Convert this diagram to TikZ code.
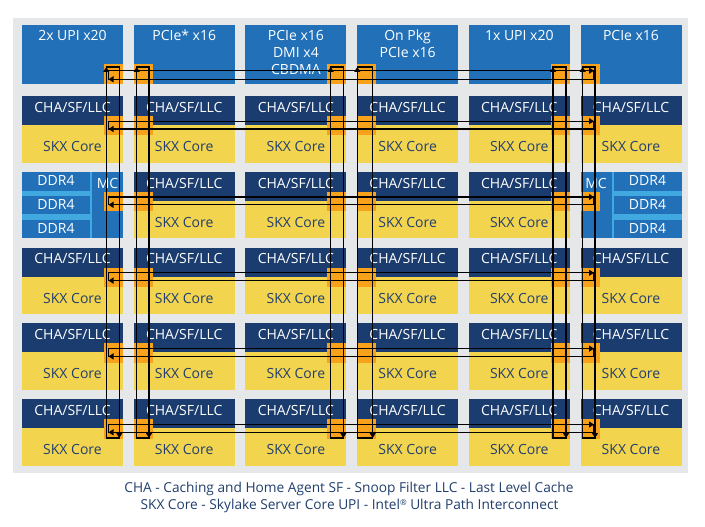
\documentclass[tikz,border=0pt]{standalone}
\usepackage{fontspec}
\setmainfont{Open Sans}
\usetikzlibrary{arrows.meta}
\definecolor{bggray}{HTML}{E6E7E8}
\definecolor{ioblue}{HTML}{2170B8}
\definecolor{chanavy}{HTML}{1B3C6E}
\definecolor{skxyel}{HTML}{F3D44F}
\definecolor{orng}{HTML}{F8A11B}
\definecolor{lightblue}{HTML}{3FA9E0}
\definecolor{txtnavy}{HTML}{213F6E}
\begin{document}
\begin{tikzpicture}[x=1pt,y=-1pt,
  blk/.style={draw=none, inner sep=0pt, outer sep=0pt, anchor=north west},
  ioblk/.style={blk, fill=ioblue},
  chablk/.style={blk, fill=chanavy},
  skxblk/.style={blk, fill=skxyel},
  orblk/.style={blk, fill=orng, minimum width=19pt, minimum height=19.5pt},
  wlabel/.style={text=white, anchor=base, inner sep=0pt, font=\fontsize{14}{17}\selectfont},
  nlabel/.style={text=txtnavy, anchor=base, inner sep=0pt, font=\fontsize{14}{17}\selectfont},
  legend/.style={text=txtnavy, anchor=base, inner sep=0pt, font=\fontsize{13.7}{16}\selectfont},
  ring/.style={draw=black, line width=1.1pt},
  tip/.style={ring, -{Triangle[length=5pt,width=6pt]}}
]
\useasboundingbox (0,0) rectangle (705,527);
\fill[white] (0,0) rectangle (705,527);
\fill[bggray] (13,18) rectangle (688,473);

% top I/O row
\foreach \c/\la/\lb/\lc in {0/2x UPI x20//, 1/PCIe* x16//, 2/PCIe x16/DMI x4/CBDMA, 3/On Pkg/PCIe x16/, 4/1x UPI x20//, 5/PCIe x16//}{
  \pgfmathsetmacro\xo{22+111.7*\c}
  \pgfmathsetmacro\xm{\xo+50.5}
  \node[ioblk, minimum width=101pt, minimum height=59.5pt] (io\c) at (\xo,25) {};
  \node[wlabel] (iola\c) at (\xm,40.3) {\la};
  \node[wlabel] (iolb\c) at (\xm,57.3) {\lb};
  \node[wlabel] (iolc\c) at (\xm,74.3) {\lc};
}

% tiles
\foreach \r in {0,...,4}{
  \foreach \c in {0,...,5}{
    \pgfmathsetmacro\xo{22+111.7*\c}
    \pgfmathsetmacro\yo{96+75.75*\r}
    \pgfmathsetmacro\xm{\xo+50.5}
    \pgfmathsetmacro\ya{\yo+16.3}
    \pgfmathsetmacro\yb{\yo+55.7}
    \pgfmathtruncatemacro\skiptile{(\r==1)&&((\c==0)||(\c==5))}
    \ifnum\skiptile=0
      \node[skxblk, minimum width=101pt, minimum height=66.5pt] (skx\r\c) at (\xo,\yo) {};
      \node[chablk, minimum width=101pt, minimum height=29pt] (cha\r\c) at (\xo,\yo) {};
      \node[wlabel] (chal\r\c) at (\xm,\ya) {CHA/SF/LLC};
      \node[nlabel] (skxl\r\c) at (\xm,\yb) {SKX Core};
    \fi
  }
}

% memory controller blocks
\pgfmathsetmacro\ymc{96+75.75}
\fill[lightblue] (22,\ymc) rectangle (123,\ymc+66.5);
\node[ioblk, minimum width=68pt, minimum height=18.8pt] (ddrl1) at (22,\ymc) {};
\node[ioblk, minimum width=68pt, minimum height=18.4pt] (ddrl2) at (22,\ymc+24) {};
\node[ioblk, minimum width=68pt, minimum height=18.7pt] (ddrl3) at (22,\ymc+47.8) {};
\node[ioblk, minimum width=31pt, minimum height=66.5pt] (mcl) at (92,\ymc) {};
\fill[lightblue] (580.5,\ymc) rectangle (681.5,\ymc+66.5);
\node[ioblk, minimum width=31pt, minimum height=66.5pt] (mcr) at (580.5,\ymc) {};
\node[ioblk, minimum width=68pt, minimum height=18.8pt] (ddrr1) at (613.5,\ymc) {};
\node[ioblk, minimum width=68pt, minimum height=18.4pt] (ddrr2) at (613.5,\ymc+24) {};
\node[ioblk, minimum width=68pt, minimum height=18.7pt] (ddrr3) at (613.5,\ymc+47.8) {};
\foreach \k/\dy in {1/14, 2/38, 3/61.5}{
  \node[wlabel] (ddrlt\k) at (56,\ymc+\dy) {DDR4};
  \node[wlabel] (ddrrt\k) at (647.5,\ymc+\dy) {DDR4};
}
\node[wlabel] (mclt) at (107.5,\ymc+16.3) {MC};
\node[wlabel] (mcrt) at (596,\ymc+16.3) {MC};

% orange mesh stops
\foreach \r/\oy in {t/64.5, 0/116, 1/191.75, 2/267.5, 3/343.25, 4/419}{
  \foreach \c in {0,...,5}{
    \pgfmathsetmacro\xo{22+111.7*\c}
    \pgfmathsetmacro\ox{mod(\c,2)==0 ? \xo+82 : \xo}
    \node[orblk] (or\r\c) at (\ox,\oy) {};
  }
}

% vertical rings
\foreach \xa/\xb [count=\k] in {106.3/119.3, 136.7/149, 330.7/343.3, 357.3/372.7, 553/566, 582.7/595}{
  \coordinate (vta\k) at (\xa,67);
  \coordinate (vtb\k) at (\xb,67);
  \coordinate (vba\k) at (\xa,438);
  \coordinate (vbb\k) at (\xb,438);
  \coordinate (vua\k) at (\xa,76);
  \coordinate (vub\k) at (\xb,429);
  \draw[ring] (vba\k) -- (vta\k) -- (vtb\k) -- (vbb\k) -- cycle;
  \draw[tip] (vua\k) -- (vta\k);
  \draw[tip] (vub\k) -- (vbb\k);
}

% horizontal rings
\foreach \yu/\yl [count=\k] in {70.7/79.3, 121.2/129, 197/204.8, 272.8/280.6, 348.6/356.4, 424.5/432.3}{
  \coordinate (hla\k) at (108.5,\yu);
  \coordinate (hra\k) at (594,\yu);
  \coordinate (hlb\k) at (108.5,\yl);
  \coordinate (hrb\k) at (594,\yl);
  \coordinate (hua\k) at (585,\yu);
  \coordinate (hub\k) at (117.5,\yl);
  \draw[ring] (hla\k) -- (hra\k) -- (hrb\k) -- (hlb\k) -- cycle;
  \draw[tip] (hua\k) -- (hra\k);
  \draw[tip] (hub\k) -- (hlb\k);
}

% legend
\node[legend] (leg1) at (349,492) {CHA - Caching and Home Agent SF - Snoop Filter LLC - Last Level Cache};
\node[legend] (leg2) at (349.5,509) {SKX Core - Skylake Server Core UPI - Intel{\fontsize{8}{8}\selectfont\raisebox{4pt}{®}} Ultra Path Interconnect};
\end{tikzpicture}
\end{document}
